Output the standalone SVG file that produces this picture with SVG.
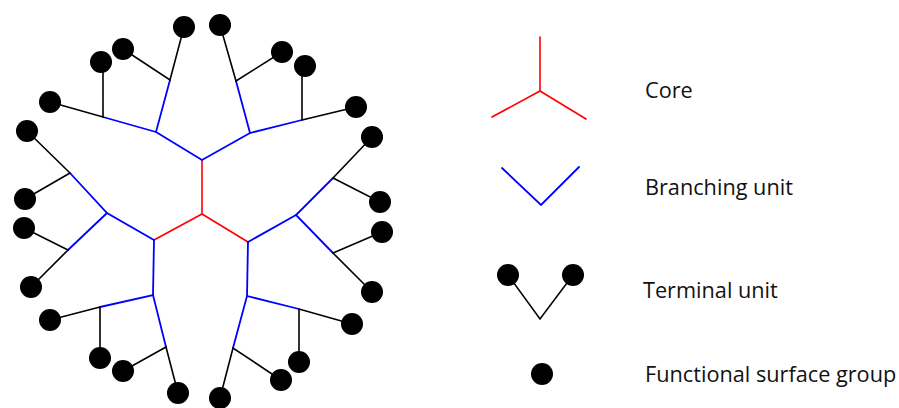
<svg xmlns="http://www.w3.org/2000/svg" width="899" height="408" viewBox="0 0 899 408">
  <style>
    .core { stroke: #ff0000; stroke-width: 1.6; fill: none; stroke-linecap: round; }
    .branch { stroke: #0000ff; stroke-width: 1.8; fill: none; stroke-linecap: round; }
    .term { stroke: #000000; stroke-width: 1.6; fill: none; stroke-linecap: round; }
    .dot { fill: #000000; }
    .label { font-family: "Open Sans", "Liberation Sans", sans-serif; font-size: 21.7px; fill: #111111; }
  </style>
  <defs>
    <circle id="fg" r="11" class="dot"/>
  </defs>

  <!-- connectors of the dendrimer -->
  <g id="connectors">
    <!-- core -->
    <polyline class="core" points="202,160 202,214"/>
    <polyline class="core" points="154,240 202,214 248,242"/>

    <!-- first generation branching units -->
    <polyline class="branch" points="156,132 202,160 250,133"/>
    <polyline class="branch" points="70,173 107,213 154,240"/>
    <polyline class="branch" points="68,250 107,213"/>
    <polyline class="branch" points="333,178 296,215 333,253"/>
    <polyline class="branch" points="248,242 296,215"/>
    <polyline class="branch" points="154,240 153,295"/>
    <polyline class="branch" points="100,307 153,295 166,347"/>
    <polyline class="branch" points="248,242 247,296"/>
    <polyline class="branch" points="299,309 247,296 233,348"/>
    <!-- second generation branching units -->
    <polyline class="branch" points="170,80 156,132 103,117"/>
    <polyline class="branch" points="236,81 250,133 302,120"/>

    <!-- terminal units -->
    <polyline class="term" points="184,27 170,80 123,49"/>
    <polyline class="term" points="101,62 103,62 103,117 50,102"/>
    <polyline class="term" points="220,25 236,81 282,52"/>
    <polyline class="term" points="302,66 302,120 356,107"/>
    <polyline class="term" points="27,131 70,173 25,199"/>
    <polyline class="term" points="24,228 68,250 31,287"/>
    <polyline class="term" points="372,137 333,178 380,202"/>
    <polyline class="term" points="382,232 333,253 372,292"/>
    <polyline class="term" points="50,320 100,307 100,358"/>
    <polyline class="term" points="123,371 166,347 178,393"/>
    <polyline class="term" points="352,324 299,309 299,362"/>
    <polyline class="term" points="281,380 233,348 220,398"/>
  </g>

  <!-- functional surface groups -->
  <g id="surface-groups">
    <g id="fg-01"><use href="#fg" x="184" y="27"/></g>
    <g id="fg-02"><use href="#fg" x="123" y="49"/></g>
    <g id="fg-03"><use href="#fg" x="101" y="62"/></g>
    <g id="fg-04"><use href="#fg" x="50" y="102"/></g>
    <g id="fg-05"><use href="#fg" x="27" y="131"/></g>
    <g id="fg-06"><use href="#fg" x="25" y="199"/></g>
    <g id="fg-07"><use href="#fg" x="24" y="228"/></g>
    <g id="fg-08"><use href="#fg" x="31" y="287"/></g>
    <g id="fg-09"><use href="#fg" x="50" y="320"/></g>
    <g id="fg-10"><use href="#fg" x="100" y="358"/></g>
    <g id="fg-11"><use href="#fg" x="123" y="371"/></g>
    <g id="fg-12"><use href="#fg" x="178" y="393"/></g>
    <g id="fg-13"><use href="#fg" x="220" y="398"/></g>
    <g id="fg-14"><use href="#fg" x="281" y="380"/></g>
    <g id="fg-15"><use href="#fg" x="299" y="362"/></g>
    <g id="fg-16"><use href="#fg" x="352" y="324"/></g>
    <g id="fg-17"><use href="#fg" x="372" y="292"/></g>
    <g id="fg-18"><use href="#fg" x="382" y="232"/></g>
    <g id="fg-19"><use href="#fg" x="380" y="202"/></g>
    <g id="fg-20"><use href="#fg" x="372" y="137"/></g>
    <g id="fg-21"><use href="#fg" x="356" y="107"/></g>
    <g id="fg-22"><use href="#fg" x="305" y="66"/></g>
    <g id="fg-23"><use href="#fg" x="282" y="52"/></g>
    <g id="fg-24"><use href="#fg" x="220" y="25"/></g>
  </g>

  <!-- legend -->
  <g id="legend-core">
    <polyline class="core" points="540,37 540,91"/>
    <polyline class="core" points="492,117 540,91 586,119"/>
    <text class="label" x="645" y="98">Core</text>
  </g>
  <g id="legend-branching">
    <polyline class="branch" points="502,168 541,205 579,167"/>
    <text class="label" x="645" y="195">Branching unit</text>
  </g>
  <g id="legend-terminal">
    <polyline class="term" points="508,275 540,319 573,275"/>
    <use href="#fg" x="508" y="275"/>
    <use href="#fg" x="573" y="275"/>
    <text class="label" x="643" y="298">Terminal unit</text>
  </g>
  <g id="legend-surface">
    <use href="#fg" x="542" y="374"/>
    <text class="label" x="645" y="382">Functional surface group</text>
  </g>
</svg>
